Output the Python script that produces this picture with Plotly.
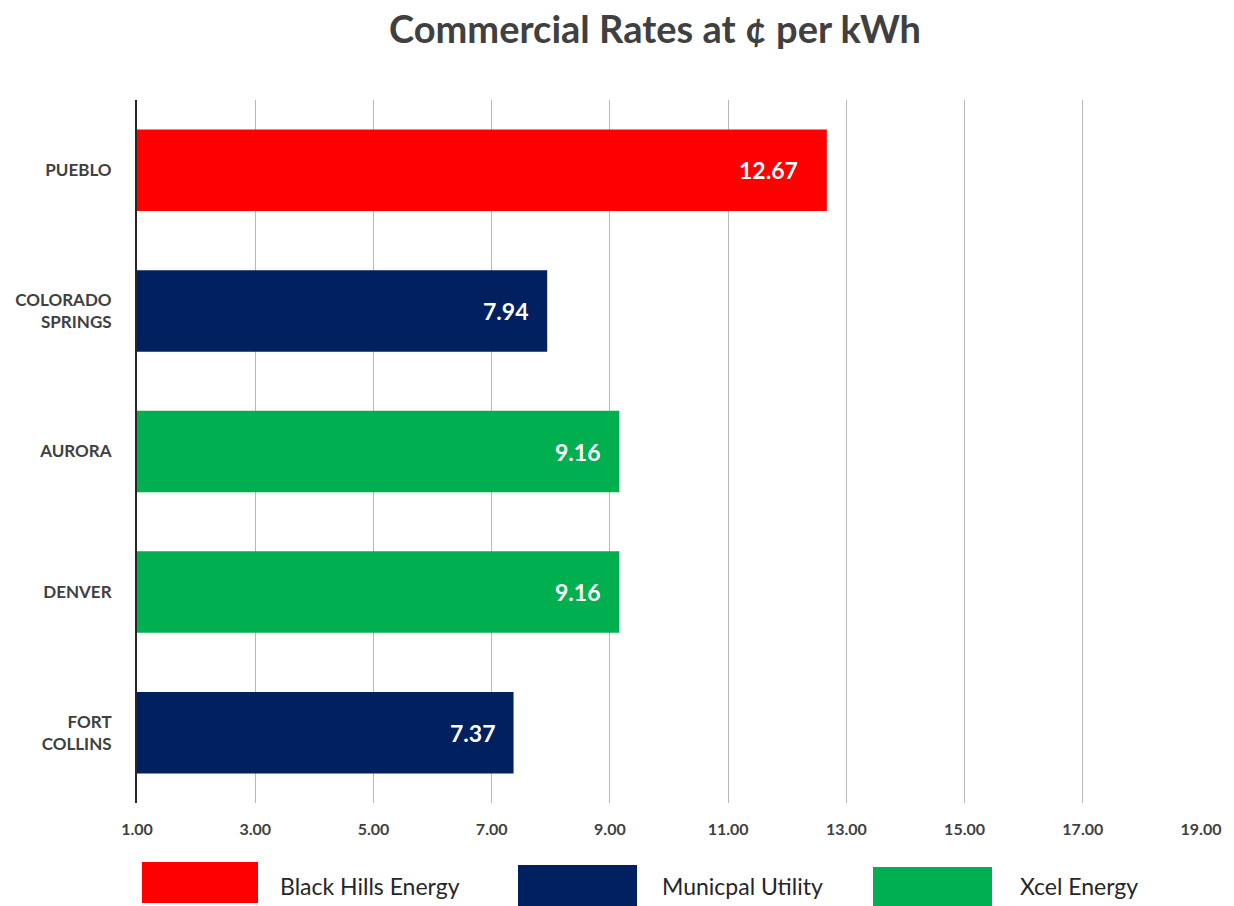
import plotly.graph_objects as go

cities = ["PUEBLO", "COLORADO<br>SPRINGS", "AURORA", "DENVER", "FORT<br>COLLINS"]
rates = [12.67, 7.94, 9.16, 9.16, 7.37]
providers = ["Black Hills Energy", "Municpal Utility", "Xcel Energy", "Xcel Energy", "Municpal Utility"]
provider_colors = {"Black Hills Energy": "#FF0000", "Municpal Utility": "#002060", "Xcel Energy": "#00B050"}
tick_vals = [1, 3, 5, 7, 9, 11, 13, 15, 17, 19]
tick_text = ["%.2f" % v for v in tick_vals]
legend_names = ["Black Hills Energy", "Municpal Utility", "Xcel Energy"]

FONT = "Lato"
W, H = 1234, 906
L, R, T, B = 137, 33, 100, 103

fig = go.Figure()
fig.add_trace(go.Bar(
    y=cities, x=[r - 1 for r in rates], base=1, orientation="h",
    marker=dict(color=[provider_colors[p] for p in providers], line=dict(width=0)),
    width=0.58, showlegend=False, hoverinfo="skip",
))
for c, r in zip(cities, rates):
    fig.add_annotation(x=r, y=c, xref="x", yref="y", text="<b>%.2f</b>" % r,
                       showarrow=False, xanchor="right", yanchor="middle",
                       xshift=-17 if r < 12 else -27,
                       font=dict(family=FONT, size=23, color="white"))

fig.update_layout(
    width=W, height=H, paper_bgcolor="white", plot_bgcolor="white",
    margin=dict(l=L, r=R, t=T, b=B),
    title=dict(text="<b>Commercial Rates at ¢ per kWh</b>", x=655 / W, xanchor="center",
               xref="container", y=1 - 30 / H, yanchor="middle", yref="container",
               font=dict(family=FONT, size=38, color="#404040")),
    showlegend=False,
)
fig.update_xaxes(range=[1, 19], tickvals=tick_vals, ticktext=tick_text,
                 showgrid=True, gridcolor="#B8B8B8", gridwidth=1, zeroline=False,
                 showline=False, ticks="", ticklabelstandoff=15,
                 tickfont=dict(family=FONT, size=16, color="#404040", weight="bold"))
fig.update_yaxes(autorange=False, range=[4.5, -0.5], categoryorder="array", categoryarray=cities,
                 showline=True, linecolor="#262626", linewidth=2, showgrid=False,
                 ticks="", ticklabelstandoff=20,
                 tickfont=dict(family=FONT, size=17, color="#404040", weight="bold"))

# legend swatches and labels
legend_boxes = [(142, 258, 862, 903), (518, 637, 865, 906), (873, 992, 867, 906)]
legend_text_x = [278, 660, 1018]
for name, (x0, x1, y0, y1), tx in zip(legend_names, legend_boxes, legend_text_x):
    fig.add_shape(type="rect", xref="paper", yref="paper",
                  x0=(x0 - L) / (W - L - R), x1=(x1 - L) / (W - L - R),
                  y0=-(y0 - (H - B)) / (H - T - B), y1=-(y1 - (H - B)) / (H - T - B),
                  fillcolor=provider_colors[name], line=dict(width=0))
    fig.add_annotation(xref="paper", yref="paper", x=(tx - L) / (W - L - R),
                       y=-(886 - (H - B)) / (H - T - B), xanchor="left", yanchor="middle",
                       text=name, showarrow=False,
                       font=dict(family=FONT, size=23, color="#262626"))

fig.write_html("out.html")
